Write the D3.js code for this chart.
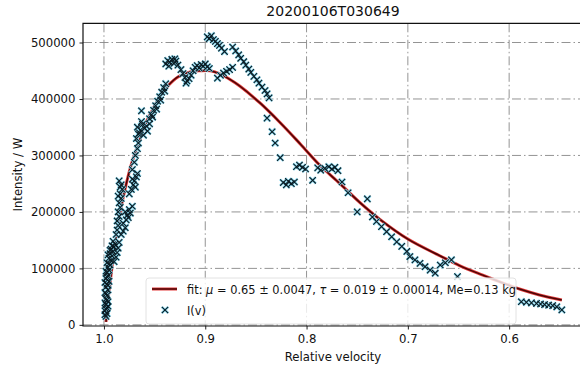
<!DOCTYPE html>
<html>
<head>
<meta charset="utf-8">
<script src="https://cdn.jsdelivr.net/npm/d3@7"></script>
<style>
  html, body { margin: 0; padding: 0; background: #fff; }
  svg { display: block; font-family: "DejaVu Sans", sans-serif; }
</style>
</head>
<body>
<svg id="chart" width="580" height="368"></svg>
<script>
// measured points: relative velocity and intensity
const measV = [
  0.998, 0.997, 0.999, 0.997, 0.998, 0.996, 0.998, 0.997, 0.999, 0.996, 0.998, 0.997, 0.995, 0.998,
  0.996, 0.997, 0.995, 0.996, 0.994, 0.997, 0.993, 0.995, 0.992, 0.994, 0.991, 0.993, 0.990, 0.989,
  0.999, 0.998, 0.996, 0.999, 0.997, 0.998, 0.996, 0.999, 0.997, 0.998, 0.995, 0.996, 0.994, 0.992,
  0.990, 0.988, 0.987, 0.986, 0.991, 0.985,
  0.988, 0.987, 0.986, 0.987, 0.985, 0.986, 0.984, 0.985, 0.983, 0.984, 0.982, 0.983, 0.985, 0.984, 0.986,
  0.983, 0.981, 0.979, 0.981, 0.978, 0.977, 0.979, 0.975, 0.974, 0.976, 0.972,
  0.975, 0.973, 0.971, 0.970, 0.968, 0.967, 0.972, 0.969,
  0.972, 0.970, 0.969, 0.967, 0.966, 0.963,
  0.968, 0.966, 0.964, 0.967, 0.962, 0.965, 0.960, 0.963, 0.958, 0.961, 0.957, 0.955,
  0.955, 0.953, 0.951, 0.949, 0.947, 0.945, 0.943, 0.941, 0.939, 0.952, 0.948, 0.944, 0.940,
  0.939, 0.937, 0.935, 0.933, 0.931, 0.929, 0.927, 0.936, 0.930,
  0.924, 0.922, 0.920, 0.918, 0.916, 0.914, 0.919,
  0.912, 0.910, 0.908, 0.906, 0.904, 0.902, 0.900, 0.898, 0.896,
  0.898, 0.896, 0.894, 0.892, 0.890, 0.888, 0.886, 0.884, 0.881,
  0.888, 0.885, 0.882, 0.879, 0.876, 0.873,
  0.873, 0.870, 0.867, 0.865, 0.862, 0.860, 0.857, 0.855, 0.852, 0.849, 0.847, 0.844, 0.841, 0.839, 0.837,
  0.839, 0.834, 0.831, 0.826,
  0.823, 0.820, 0.818, 0.815, 0.812,
  0.810, 0.807, 0.804, 0.801, 0.794,
  0.789, 0.786, 0.782, 0.778, 0.775, 0.772, 0.769, 0.765, 0.759, 0.740, 0.750, 0.735,
  0.731, 0.726, 0.721, 0.716, 0.711, 0.706, 0.701, 0.698, 0.693, 0.688, 0.683, 0.678, 0.673,
  0.668, 0.663, 0.657, 0.651,
  0.588, 0.583, 0.578, 0.573, 0.569, 0.565, 0.561, 0.557, 0.553, 0.548
];
const measI = [
  15000, 20000, 25000, 30000, 36000, 41000, 46000, 52000, 57000, 62000, 67000, 72000, 77000, 82000,
  87000, 92000, 97000, 102000, 106000, 110000, 114000, 118000, 122000, 126000, 130000, 134000, 138000, 143000,
  18000, 28000, 33000, 39000, 44000, 55000, 70000, 75000, 85000, 95000, 108000, 124000, 132000, 140000,
  112000, 120000, 128000, 136000, 148000, 146000,
  160000, 168000, 176000, 184000, 192000, 200000, 208000, 216000, 224000, 232000, 240000, 248000, 255000, 244000, 228000,
  160000, 166000, 172000, 180000, 186000, 194000, 200000, 204000, 198000, 190000, 210000,
  232000, 240000, 248000, 255000, 262000, 268000, 258000, 244000,
  275000, 288000, 300000, 312000, 322000, 379000,
  330000, 338000, 345000, 350000, 355000, 340000, 348000, 360000, 352000, 336000, 343000, 356000,
  365000, 372000, 380000, 388000, 396000, 404000, 412000, 420000, 427000, 368000, 382000, 398000, 414000,
  462000, 468000, 465000, 470000, 463000, 467000, 460000, 458000, 471000,
  452000, 445000, 438000, 432000, 436000, 442000, 428000,
  450000, 456000, 459000, 455000, 461000, 458000, 462000, 457000, 454000,
  510000, 507000, 512000, 505000, 502000, 498000, 495000, 490000, 484000,
  437000, 442000, 446000, 449000, 452000, 456000,
  492000, 485000, 478000, 472000, 466000, 460000, 453000, 447000, 440000, 434000, 428000, 421000, 415000, 409000, 402000,
  366000, 342000, 322000, 296000,
  252000, 248000, 254000, 250000, 253000,
  280000, 283000, 279000, 276000, 256000,
  278000, 274000, 277000, 280000, 276000, 279000, 273000, 253000, 234000, 223000, 200000, 191000,
  183000, 174000, 165000, 156000, 147000, 139000, 130000, 121000, 115000, 109000, 103000, 97000, 91500,
  106000, 110000, 115000, 85500,
  41000, 40000, 39000, 38000, 37000, 36000, 35000, 34000, 32000, 26500
];

// fitted curve
const fitV = [0.998, 0.996, 0.993, 0.990, 0.987, 0.983, 0.979, 0.974, 0.969, 0.964, 0.960, 0.952,
  0.945, 0.937, 0.927, 0.915, 0.905, 0.895, 0.885, 0.876, 0.866, 0.846, 0.826, 0.806, 0.787,
  0.767, 0.747, 0.727, 0.700, 0.668, 0.649, 0.626, 0.609, 0.589, 0.570, 0.548];
const fitI = [5300, 44000, 88500, 133000, 172000, 209000, 242000, 278000, 306000, 331000, 352000, 381000,
  404000, 423000, 439000, 448000, 450000, 450000, 444000, 435000, 423000, 393000, 358000, 320000, 283000,
  250000, 216000, 186000, 152000, 122000, 105000, 88000, 76000, 63000, 53000, 44000];

const xTicks = [1.0, 0.9, 0.8, 0.7, 0.6];
const yTicks = [0, 100000, 200000, 300000, 400000, 500000];

const titleText = '20200106T030649';
const xLabel = 'Relative velocity';
const yLabel = 'Intensity / W';

const svg = d3.select('#chart');
const pLeft = 83, pTop = 23.3, pRight = 583, pBottom = 326;
const fs = 11.7;

// x axis runs backwards (1.0 on the left)
const x = d3.scaleLinear().domain([1.0207, 0.5271]).range([pLeft, pRight]);
const y = d3.scaleLinear().domain([-2000, 534000]).range([pBottom, pTop]);

// grid, dash-dot
const grid = svg.append('g')
  .attr('stroke', '#888')
  .attr('stroke-width', 0.9)
  .attr('stroke-dasharray', '9,3,1.5,3');
grid.selectAll('line.v').data(xTicks).enter().append('line')
  .attr('x1', d => x(d)).attr('x2', d => x(d))
  .attr('y1', pTop).attr('y2', pBottom);
grid.selectAll('line.h').data(yTicks).enter().append('line')
  .attr('x1', pLeft).attr('x2', pRight)
  .attr('y1', d => y(d)).attr('y2', d => y(d));

// fit line: red fringe under a dark core
const line = d3.line().x(d => x(d[0])).y(d => y(d[1])).curve(d3.curveCatmullRom);
const fitPts = fitV.map((v, i) => [v, fitI[i]]);
svg.append('path').datum(fitPts)
  .attr('d', line).attr('fill', 'none')
  .attr('stroke', '#e23a3a').attr('stroke-width', 3);
svg.append('path').datum(fitPts)
  .attr('d', line).attr('fill', 'none')
  .attr('stroke', '#4a0505').attr('stroke-width', 1.5);

// x markers, cyan halo then black
const marker = 'M-3.2,-3.2L3.2,3.2M-3.2,3.2L3.2,-3.2';
const pts = measV.map((v, i) => [v, measI[i]]);
svg.append('g').selectAll('path').data(pts).enter().append('path')
  .attr('d', marker)
  .attr('transform', d => `translate(${x(d[0])},${y(d[1])})`)
  .attr('stroke', '#8fdcf2').attr('stroke-width', 2.6).attr('fill', 'none');
svg.append('g').selectAll('path').data(pts).enter().append('path')
  .attr('d', marker)
  .attr('transform', d => `translate(${x(d[0])},${y(d[1])})`)
  .attr('stroke', '#0a1a22').attr('stroke-width', 1.1).attr('fill', 'none');

// axes
const xAxis = svg.append('g')
  .attr('transform', `translate(0,${pBottom})`)
  .call(d3.axisBottom(x).tickValues(xTicks).tickFormat(d3.format('.1f')).tickSize(3.5).tickPadding(5));
const yAxis = svg.append('g')
  .attr('transform', `translate(${pLeft},0)`)
  .call(d3.axisLeft(y).tickValues(yTicks).tickFormat(d3.format('d')).tickSize(3.5).tickPadding(4));
[xAxis, yAxis].forEach(a => {
  a.select('.domain').remove();
  a.selectAll('text').attr('font-size', fs).attr('font-family', 'DejaVu Sans').attr('fill', '#111');
  a.selectAll('line').attr('stroke', '#222');
});

// frame (right spine is off the picture)
svg.append('path')
  .attr('d', `M${pRight},${pTop}H${pLeft}V${pBottom}H${pRight}`)
  .attr('fill', 'none').attr('stroke', '#111').attr('stroke-width', 1.2);

// labels
svg.append('text')
  .attr('x', (pLeft + pRight) / 2).attr('y', 16)
  .attr('text-anchor', 'middle').attr('font-size', 14).attr('fill', '#111')
  .text(titleText);
svg.append('text')
  .attr('x', (pLeft + pRight) / 2).attr('y', 361)
  .attr('text-anchor', 'middle').attr('font-size', fs).attr('fill', '#111')
  .text(xLabel);
svg.append('text')
  .attr('transform', `translate(22,${(pTop + pBottom) / 2}) rotate(-90)`)
  .attr('text-anchor', 'middle').attr('font-size', fs).attr('fill', '#111')
  .text(yLabel);

// legend
const lg = svg.append('g');
lg.append('rect')
  .attr('x', 146).attr('y', 278).attr('width', 370).attr('height', 46).attr('rx', 3)
  .attr('fill', '#fff').attr('fill-opacity', 0.8)
  .attr('stroke', '#e2e2e2').attr('stroke-width', 1);
lg.append('line')
  .attr('x1', 152).attr('x2', 177).attr('y1', 289).attr('y2', 289)
  .attr('stroke', '#e23a3a').attr('stroke-width', 3);
lg.append('line')
  .attr('x1', 152).attr('x2', 177).attr('y1', 289).attr('y2', 289)
  .attr('stroke', '#4a0505').attr('stroke-width', 1.5);
lg.append('path').attr('d', marker).attr('transform', 'translate(165,310)')
  .attr('stroke', '#8fdcf2').attr('stroke-width', 2.6).attr('fill', 'none');
lg.append('path').attr('d', marker).attr('transform', 'translate(165,310)')
  .attr('stroke', '#0a1a22').attr('stroke-width', 1.1).attr('fill', 'none');

const fitLabel = lg.append('text')
  .attr('x', 187).attr('y', 293.5).attr('font-size', 11.4).attr('fill', '#111');
fitLabel.append('tspan').text('fit: ');
fitLabel.append('tspan').attr('font-style', 'italic').text('μ');
fitLabel.append('tspan').text(' = 0.65 ± 0.0047, ');
fitLabel.append('tspan').attr('font-style', 'italic').text('τ');
fitLabel.append('tspan').text(' = 0.019 ± 0.00014, Me=0.13 kg');
lg.append('text')
  .attr('x', 187).attr('y', 314.5).attr('font-size', 11.4).attr('fill', '#111')
  .text('I(v)');
</script>
</body>
</html>
